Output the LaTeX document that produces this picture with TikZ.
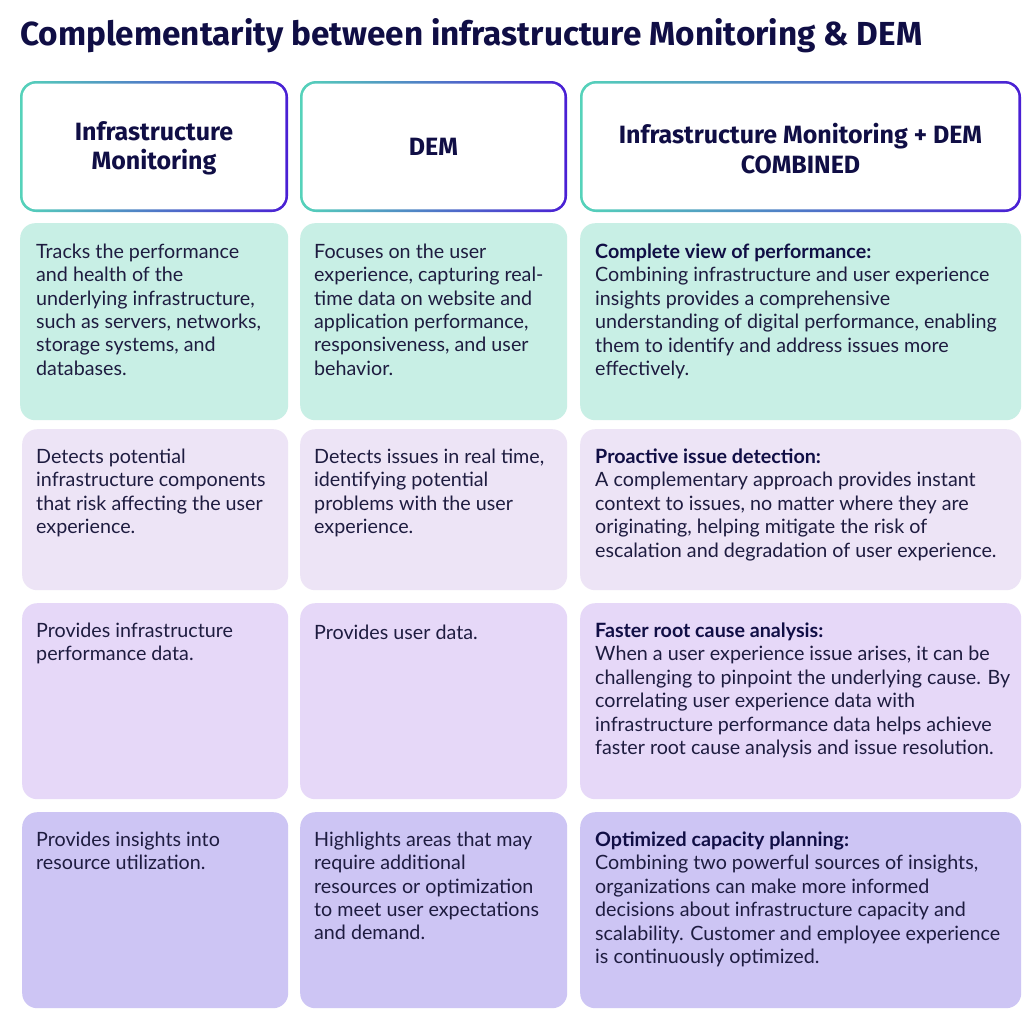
\documentclass[tikz,border=0pt]{standalone}
\usepackage{fontspec}
\setmainfont{Lato}
\newfontfamily\headfont{Fira Sans}
\definecolor{navy}{HTML}{100E45}
\definecolor{bodytxt}{HTML}{1E1C40}
\definecolor{gteal}{HTML}{55D3BA}
\definecolor{gpurple}{HTML}{B46BE6}
\definecolor{gindigo}{HTML}{4A1FD4}
\definecolor{rowa}{HTML}{C8EFE5}
\definecolor{rowb}{HTML}{EDE4F6}
\definecolor{rowc}{HTML}{E6D8F8}
\definecolor{rowd}{HTML}{CDC5F4}
\tikzset{
  cell/.style={anchor=north west, rounded corners=15pt, draw=none, inner sep=0pt},
  txt/.style={anchor=north west, align=left, inner sep=0pt, text=bodytxt,
    font=\fontsize{19.7}{23.4}\selectfont, execute at begin node=\strut},
  headtxt/.style={align=center, inner sep=0pt, text=navy,
    font=\headfont\bfseries\fontsize{25}{29.5}\selectfont},
}
\newcommand\gradframe[4]{%
  \shade[left color=gteal, middle color=gpurple, right color=gindigo, rounded corners=16pt]
    (#1,#2) rectangle (#3,#4);
  \fill[white, rounded corners=13.5pt] (#1+2.6,#2+2.6) rectangle (#3-2.6,#4-2.6);
}
\begin{document}
\begin{tikzpicture}[x=1pt,y=-1pt]
\useasboundingbox (0,0) rectangle (1024,1009);
\fill[white] (0,0) rectangle (1024,1009);
% title
\node[anchor=base west, inner sep=0pt, text=navy, font=\headfont\bfseries\fontsize{33.3}{38}\selectfont]
  (title) at (20,45) {Complementarity between infrastructure Monitoring \& DEM};
% header frames
\gradframe{20}{81}{288}{212}
\gradframe{300}{81}{567}{212}
\gradframe{580}{81}{1021}{212}
\node[headtxt] (h1) at (154,148.5) {Infrastructure\\Monitoring};
\node[headtxt] (h2) at (433.5,147) {DEM};
\node[headtxt] (h3) at (800.5,148.5) {Infrastructure Monitoring + DEM\\COMBINED};
% cells
\node[cell, fill=rowa, minimum width=268pt, minimum height=197pt] (c11) at (20,223) {};
\node[cell, fill=rowa, minimum width=267pt, minimum height=197pt] (c12) at (300,223) {};
\node[cell, fill=rowa, minimum width=441pt, minimum height=197pt] (c13) at (580,223) {};
\node[cell, fill=rowb, minimum width=266pt, minimum height=161pt] (c21) at (22,429) {};
\node[cell, fill=rowb, minimum width=267pt, minimum height=161pt] (c22) at (300,429) {};
\node[cell, fill=rowb, minimum width=441pt, minimum height=161pt] (c23) at (580,429) {};
\node[cell, fill=rowc, minimum width=266pt, minimum height=196pt] (c31) at (22,603) {};
\node[cell, fill=rowc, minimum width=267pt, minimum height=196pt] (c32) at (300,603) {};
\node[cell, fill=rowc, minimum width=441pt, minimum height=196pt] (c33) at (580,603) {};
\node[cell, fill=rowd, minimum width=266pt, minimum height=196pt] (c41) at (22,812) {};
\node[cell, fill=rowd, minimum width=267pt, minimum height=196pt] (c42) at (300,812) {};
\node[cell, fill=rowd, minimum width=441pt, minimum height=196pt] (c43) at (580,812) {};
% texts
\node[txt] (t11) at (36,243.6) {Tracks the performance\\and health of the\\underlying infrastructure,\\such as servers, networks,\\storage systems, and\\databases.};
\node[txt] (t12) at (314,243.6) {Focuses on the user\\experience, capturing real-\\time data on website and\\application performance,\\responsiveness, and user\\behavior.};
\node[txt] (t13) at (595,243.6) {\textbf{\color{navy}Complete view of performance:}\\Combining infrastructure and user experience\\insights provides a comprehensive\\understanding of digital performance, enabling\\them to identify and address issues more\\effectively.};
\node[txt] (t21) at (36,448.6) {Detects potential\\infrastructure components\\that risk affecting the user\\experience.};
\node[txt] (t22) at (314,448.6) {Detects issues in real time,\\identifying potential\\problems with the user\\experience.};
\node[txt] (t23) at (595,448.6) {\textbf{\color{navy}Proactive issue detection:}\\A complementary approach provides instant\\context to issues, no matter where they are\\originating, helping mitigate the risk of\\escalation and degradation of user experience.};
\node[txt] (t31) at (36,622.6) {Provides infrastructure\\performance data.};
\node[txt] (t32) at (314,622.6) {Provides user data.};
\node[txt] (t33) at (595,622.6) {\textbf{\color{navy}Faster root cause analysis:}\\When a user experience issue arises, it can be\\challenging to pinpoint the underlying cause. By\\correlating user experience data with\\infrastructure performance data helps achieve\\faster root cause analysis and issue resolution.};
\node[txt] (t41) at (36,831.6) {Provides insights into\\resource utilization.};
\node[txt] (t42) at (314,831.6) {Highlights areas that may\\require additional\\resources or optimization\\to meet user expectations\\and demand.};
\node[txt] (t43) at (595,831.6) {\textbf{\color{navy}Optimized capacity planning:}\\Combining two powerful sources of insights,\\organizations can make more informed\\decisions about infrastructure capacity and\\scalability. Customer and employee experience\\is continuously optimized.};
\end{tikzpicture}
\end{document}
